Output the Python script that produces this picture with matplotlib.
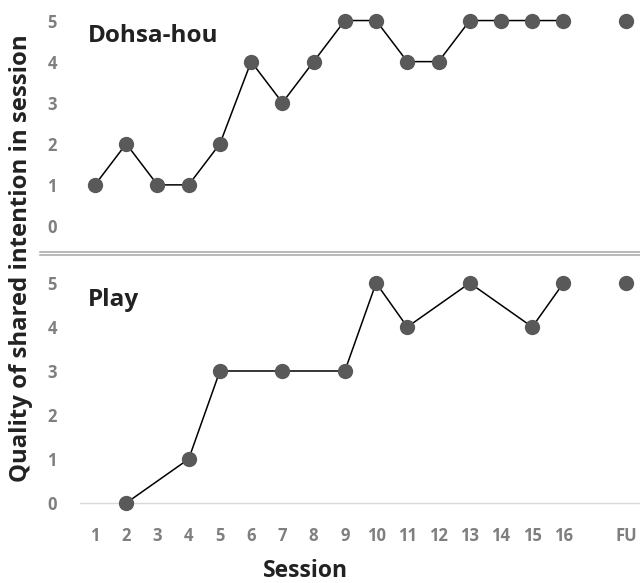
import matplotlib.pyplot as plt
from matplotlib.lines import Line2D

# data
dohsa_sessions = [1, 2, 3, 4, 5, 6, 7, 8, 9, 10, 11, 12, 13, 14, 15, 16]
dohsa_values = [1, 2, 1, 1, 2, 4, 3, 4, 5, 5, 4, 4, 5, 5, 5, 5]
dohsa_fu = 5

play_sessions = [2, 4, 5, 7, 9, 10, 11, 13, 15, 16]
play_values = [0, 1, 3, 3, 3, 5, 4, 5, 4, 5]
play_fu = 5

fu_pos = 18
xtick_pos = list(range(1, 17)) + [fu_pos]
xtick_labels = [str(i) for i in range(1, 17)] + ["FU"]

plt.rcParams['font.family'] = ['Open Sans', 'DejaVu Sans']

W, H = 640, 583
fig = plt.figure(figsize=(W / 100, H / 100), dpi=100)

tick_col = "#7f7f7f"
mk_col = "#595959"

def px_axes(left, top, right, bottom):
    return fig.add_axes([left / W, 1 - bottom / H, (right - left) / W, (bottom - top) / H])

# top: y=5 at 21px, y=0 at 226px -> 41 px/unit
ax1 = px_axes(80, 0, 640, 246.5)
# bottom: y=5 at 283px, y=0 at 503px -> 44 px/unit
ax2 = px_axes(80, 261, 640, 516.2)

for ax, xs, ys, fu, name, ylim in [
    (ax1, dohsa_sessions, dohsa_values, dohsa_fu, "Dohsa-hou", (-0.5, 5.5)),
    (ax2, play_sessions, play_values, play_fu, "Play", (-0.3, 5.5)),
]:
    ax.plot(xs, ys, color="black", lw=1.1, marker="o", ms=10,
            mfc=mk_col, mec=mk_col, zorder=3, clip_on=False)
    ax.plot([fu_pos], [fu], marker="o", ms=10, mfc=mk_col, mec=mk_col,
            ls="none", zorder=3, clip_on=False)
    ax.set_xlim(0.52, 18.45)
    ax.set_ylim(*ylim)
    ax.set_yticks(range(6))
    ax.tick_params(axis="y", length=0, pad=20, labelsize=12, labelcolor=tick_col)
    for lbl in ax.get_yticklabels():
        lbl.set_fontweight("bold")
        lbl.set_horizontalalignment("center")
    for s in ax.spines.values():
        s.set_visible(False)
    ax.text(0.77, 4.62, name, fontsize=17.5, fontweight="bold", color="#222222",
            va="center", ha="left")

ax1.set_xticks([])
ax2.axhline(0, color="#d9d9d9", lw=1, zorder=1)
ax2.set_xticks(xtick_pos)
ax2.set_xticklabels(xtick_labels)
ax2.tick_params(axis="x", length=0, pad=8, labelsize=12, labelcolor=tick_col)
for lbl in ax2.get_xticklabels():
    lbl.set_fontweight("bold")

# double divider line
for yy in (252, 254.5):
    fig.add_artist(Line2D([40 / W, 1], [1 - yy / H, 1 - yy / H], color="#a6a6a6", lw=1.1))

fig.text(306 / W, 1 - 571 / H, "Session", fontsize=16.5, fontweight="bold",
         color="#222222", ha="center", va="center")
ylab = fig.text(21 / W, 1 - 258 / H, "Quality of shared intention in session", fontsize=16.5,
                fontweight="bold", color="#222222", ha="center", va="center", rotation=90)

# fit the y label to about 447 px tall
r = fig.canvas.get_renderer()
h = ylab.get_window_extent(r).height
ylab.set_fontsize(16.5 * 447 / h)

fig.savefig("out.png", dpi=100)
